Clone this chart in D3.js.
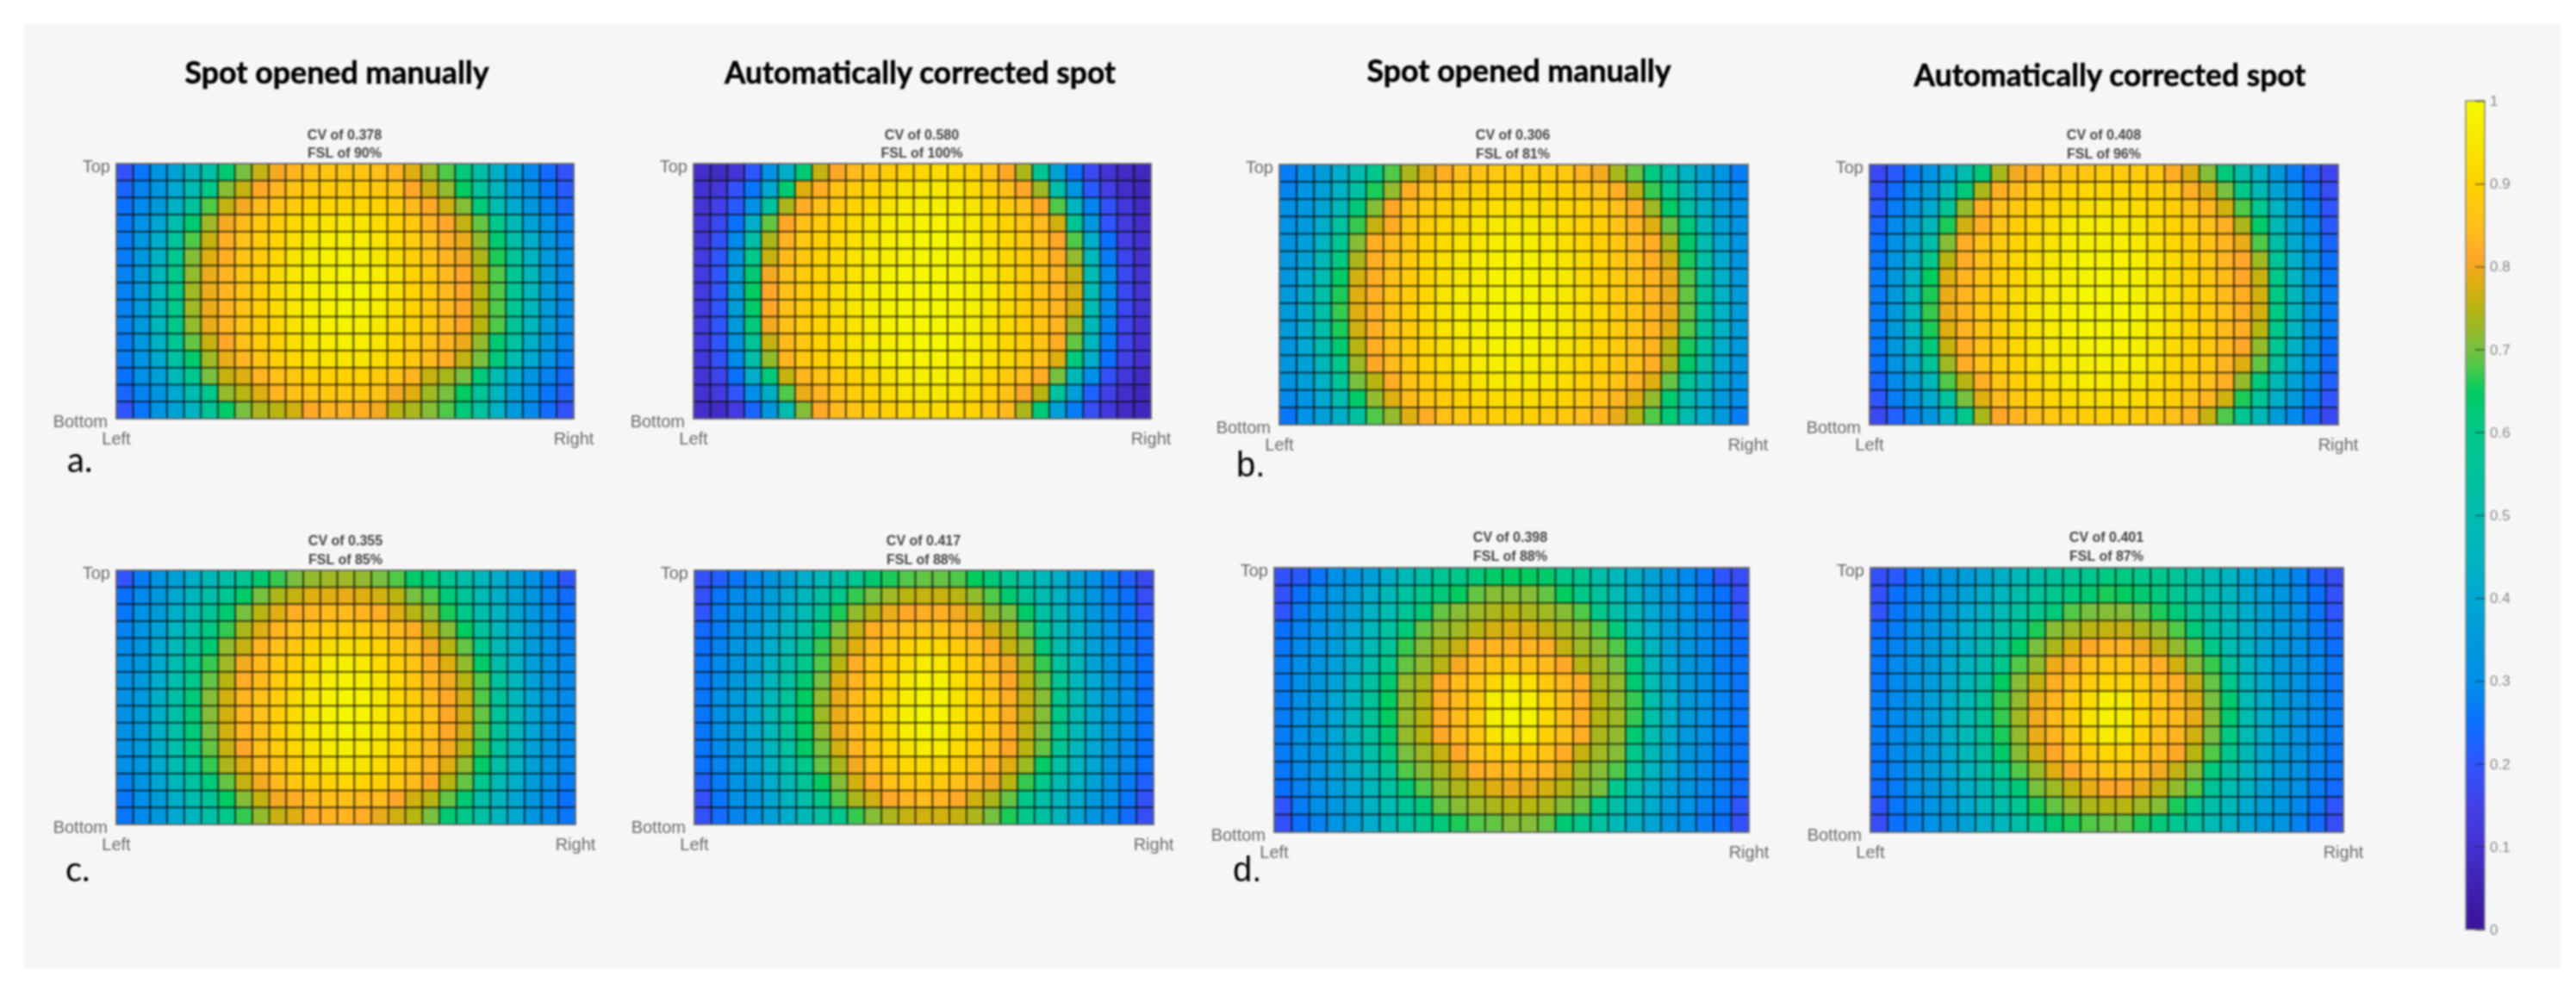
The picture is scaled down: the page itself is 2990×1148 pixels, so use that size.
<!DOCTYPE html>
<html>
<head>
<meta charset="utf-8">
<script src="https://cdnjs.cloudflare.com/ajax/libs/d3/7.8.5/d3.min.js"></script>
<style>
html, body { margin: 0; padding: 0; background: #fff; }
svg { display: block; filter: blur(0.8px); }
</style>
</head>
<body>
<script>
// values, x100, 15 rows (top to bottom) of 27 columns (left to right)
var aManual = [
[19,26,32,38,45,53,63,70,76,80,83,85,86,86,86,85,83,78,73,68,62,52,43,35,29,24,19],
[23,28,33,40,50,60,71,76,81,83,86,87,88,88,88,87,86,81,77,72,65,55,46,37,31,26,21],
[25,29,35,44,55,68,76,80,84,86,88,90,91,91,91,90,88,84,81,77,71,62,50,41,34,28,23],
[26,31,39,51,63,73,80,84,87,89,91,93,94,95,94,92,90,87,83,81,76,69,60,48,38,31,27],
[27,33,42,55,68,76,82,85,88,90,93,95,97,97,96,94,91,88,85,82,79,72,63,52,42,33,28],
[27,34,44,58,71,78,82,86,88,91,94,96,98,98,97,95,92,89,86,83,80,74,66,56,45,35,29],
[28,35,46,60,72,79,83,86,89,92,95,97,98,99,98,96,93,90,87,84,81,75,68,58,47,36,29],
[28,35,46,60,73,79,83,86,89,92,95,97,98,99,99,96,93,90,87,84,81,75,68,58,47,36,29],
[28,35,46,60,73,79,83,86,89,92,95,97,98,99,98,96,93,90,87,84,81,75,68,58,46,36,29],
[28,35,46,60,72,79,83,86,89,91,94,96,98,98,97,95,92,90,87,84,81,75,68,57,46,36,29],
[27,34,44,57,69,76,81,85,88,90,93,95,96,97,96,94,91,88,85,83,79,72,63,54,43,34,28],
[27,33,41,53,64,73,79,83,86,89,91,93,94,94,94,92,90,87,84,82,76,70,62,50,40,32,27],
[25,30,37,47,58,70,76,78,83,85,87,89,90,90,90,88,86,83,76,74,70,62,50,41,33,28,24],
[23,28,33,40,50,60,72,75,78,83,85,86,87,87,87,86,80,78,73,70,65,56,46,37,31,26,22],
[20,26,32,38,45,56,64,70,74,75,77,81,83,83,82,80,75,74,71,68,62,54,44,35,29,24,19]
];
var aCorrected = [
[9,8,11,20,31,43,63,76,81,84,86,88,90,91,92,91,90,86,81,74,58,38,25,17,11,8,7],
[10,12,19,26,40,63,78,82,86,88,90,92,94,95,95,94,92,89,85,81,73,52,33,21,14,9,7],
[11,15,21,31,54,74,82,85,88,90,92,94,96,97,97,96,94,91,88,85,81,68,45,28,19,12,8],
[12,17,25,43,69,81,85,88,90,92,94,96,97,98,98,97,95,92,90,87,84,77,57,34,20,13,9],
[12,19,29,52,74,83,87,89,91,93,95,97,98,99,99,98,96,93,91,88,85,81,68,42,25,14,10],
[13,20,33,60,76,84,87,90,92,94,96,97,98,99,99,98,96,94,91,89,86,82,72,47,27,16,10],
[13,20,36,63,80,85,88,90,92,94,96,98,99,99,99,98,97,94,92,89,86,83,76,50,29,17,11],
[13,20,36,65,81,85,88,90,93,95,97,98,99,99,99,98,97,95,92,89,86,83,77,50,29,17,11],
[13,20,36,64,81,85,88,90,93,95,97,98,99,99,99,98,97,95,92,89,86,83,77,50,29,17,11],
[13,20,35,62,80,85,88,90,92,94,96,98,99,99,99,98,97,94,92,89,86,83,73,48,28,16,10],
[13,20,32,57,76,84,87,90,92,94,96,97,98,99,99,98,96,94,91,89,86,82,69,46,27,16,10],
[12,19,29,52,72,83,87,89,91,93,95,97,98,98,98,97,96,93,91,88,85,78,62,42,25,15,10],
[11,16,25,43,62,76,83,86,88,90,92,94,96,97,97,96,94,91,88,85,82,70,48,30,19,12,8],
[10,13,20,30,43,68,79,83,86,88,90,92,94,95,95,94,92,89,86,81,75,55,37,22,15,9,7],
[9,8,13,23,34,50,71,81,84,86,88,89,91,92,92,91,90,87,84,74,62,37,27,18,12,8,7]
];
var bManual = [
[27,31,36,42,50,60,68,74,78,82,85,86,87,88,88,88,87,83,80,74,69,61,52,44,38,33,27],
[28,32,37,44,53,66,72,82,85,87,88,89,90,90,91,90,89,87,85,82,75,67,60,48,40,34,29],
[30,34,39,47,62,71,81,85,88,89,91,92,93,93,93,92,91,90,88,85,82,73,64,53,43,36,31],
[31,35,42,54,67,76,82,86,89,91,92,94,95,95,95,94,92,90,89,86,83,78,69,62,46,38,32],
[33,37,45,58,71,82,84,87,90,92,94,95,96,97,96,95,93,91,89,87,84,82,74,64,50,40,33],
[34,38,48,61,74,82,85,88,91,93,95,96,97,98,97,96,94,92,90,87,85,82,77,66,53,41,34],
[34,40,50,64,77,82,85,88,91,93,95,96,98,98,98,96,95,92,90,88,85,83,79,68,55,43,35],
[35,41,52,66,78,82,86,88,91,94,96,97,98,99,98,97,95,93,90,88,86,83,79,69,57,44,36],
[35,41,52,67,78,82,86,89,92,94,96,97,98,99,99,97,95,93,91,88,86,83,79,69,56,44,36],
[35,41,52,66,77,82,86,88,91,94,96,97,98,99,98,97,95,92,90,88,86,83,78,68,56,44,36],
[34,40,50,63,75,82,85,88,91,93,95,96,98,98,98,96,94,92,90,88,85,83,75,66,54,42,35],
[34,38,47,60,73,81,84,87,90,92,94,96,97,97,96,95,93,91,89,87,85,82,74,64,52,41,34],
[32,37,44,56,70,75,82,86,88,90,92,94,95,95,95,94,92,90,88,86,83,78,69,57,46,39,32],
[29,33,40,50,64,72,78,84,87,88,90,91,92,92,92,91,90,88,85,83,78,72,63,50,42,35,30],
[26,31,37,43,54,68,72,78,82,85,87,88,89,89,89,88,87,85,83,79,75,68,62,50,42,35,27]
];
var bCorrected = [
[17,21,27,32,40,50,62,74,80,82,85,86,87,88,88,88,87,82,78,71,62,52,44,34,27,22,16],
[19,24,30,36,48,62,74,82,84,87,88,90,91,91,91,90,89,87,82,78,70,60,48,38,31,24,18],
[21,27,33,41,57,72,82,85,87,89,91,92,93,94,93,92,91,89,86,83,77,68,58,44,35,27,20],
[23,29,37,47,66,77,82,86,89,91,93,95,96,96,95,94,92,90,88,85,82,74,64,48,38,29,21],
[25,31,40,52,71,82,85,88,90,92,94,96,97,97,97,95,93,91,89,86,83,79,68,52,41,31,23],
[26,33,42,60,75,82,85,88,91,93,95,97,98,98,98,96,94,92,89,87,83,81,73,57,43,33,25],
[27,34,44,65,78,83,86,89,91,94,96,97,98,99,98,97,95,92,90,87,84,81,76,60,45,34,26],
[27,35,46,66,79,83,86,89,92,94,96,98,99,99,99,97,95,93,90,88,84,82,77,61,46,35,27],
[27,35,47,67,79,83,87,89,92,95,97,98,99,99,99,98,96,93,90,88,85,82,77,61,46,35,27],
[27,35,46,66,78,83,86,89,92,94,96,98,99,99,99,97,95,93,90,88,84,82,75,60,45,34,27],
[26,34,44,62,76,82,85,88,91,94,96,97,98,99,98,97,95,92,90,87,84,81,72,58,44,33,25],
[25,32,41,56,73,82,85,88,90,93,95,96,97,98,97,96,94,91,89,87,83,78,69,55,42,32,24],
[23,29,37,47,68,75,82,86,89,91,93,95,96,96,95,94,92,90,88,85,82,72,62,48,38,29,22],
[20,27,33,41,55,70,78,84,87,89,91,92,93,93,93,92,91,89,86,83,77,66,56,43,35,27,20],
[17,22,28,34,44,60,74,81,83,85,87,88,89,89,89,88,87,85,83,76,68,58,48,36,29,23,17]
];
var cManual = [
[20,27,32,37,42,48,52,58,63,67,70,72,73,73,72,70,68,64,62,58,52,47,42,37,31,27,20],
[25,29,34,40,46,52,58,64,70,74,76,78,78,79,78,77,75,70,68,62,56,49,43,38,33,28,24],
[26,31,36,43,50,57,63,70,75,78,82,83,84,84,83,82,78,75,72,66,60,51,45,39,34,29,26],
[28,32,38,45,53,61,67,74,78,83,85,87,88,88,88,86,84,82,76,71,65,55,47,41,35,30,27],
[29,33,40,47,57,63,72,76,83,85,87,90,92,93,92,90,87,85,80,75,69,60,49,42,36,31,28],
[30,34,41,49,59,67,73,80,84,87,89,92,96,97,95,92,89,86,82,78,72,64,52,44,37,32,29],
[31,35,42,51,60,69,75,82,84,88,91,94,97,98,97,94,91,87,83,80,75,68,55,46,38,33,29],
[31,35,43,52,62,71,77,83,85,88,92,95,98,99,98,95,91,88,84,81,77,68,56,46,39,33,29],
[31,35,43,52,62,71,77,83,85,89,92,95,98,99,98,95,92,88,85,81,77,69,56,47,39,33,29],
[31,35,43,52,62,70,77,83,85,89,92,95,97,98,97,95,92,88,85,81,77,68,56,46,39,33,29],
[31,35,43,51,61,69,76,81,85,88,91,94,96,97,96,94,91,87,84,80,75,67,55,46,38,33,29],
[30,34,41,49,58,67,74,78,84,86,89,92,94,95,94,92,89,86,83,78,72,64,53,44,37,32,29],
[28,32,39,46,54,62,69,76,80,84,87,89,90,91,90,89,87,84,81,75,69,59,49,42,36,30,27],
[26,30,36,43,50,56,65,71,76,80,82,84,85,85,84,84,81,77,75,69,63,52,45,39,34,29,25],
[26,29,34,40,46,53,60,67,72,76,78,82,83,83,82,79,77,75,70,63,60,53,46,40,34,29,26]
];
var cCorrected = [
[19,22,26,29,33,37,42,47,52,58,63,66,68,69,69,68,65,62,58,52,47,42,37,31,27,22,17],
[19,26,29,32,36,41,46,53,60,67,70,73,75,76,76,75,72,68,63,56,50,44,39,33,28,25,18],
[20,27,30,33,38,43,49,57,66,72,75,79,81,82,82,80,77,72,70,64,53,47,40,34,29,26,20],
[24,27,31,35,40,46,52,62,70,76,82,84,85,86,86,84,82,77,74,68,58,49,42,36,31,27,24],
[25,28,32,37,42,49,57,67,73,78,84,87,90,92,91,88,85,82,76,72,62,51,44,37,32,28,24],
[26,29,33,38,44,51,60,68,75,82,86,89,93,96,95,91,87,84,80,74,67,55,46,38,33,29,25],
[26,29,34,39,46,53,63,70,78,83,87,91,95,98,97,93,89,85,81,75,69,58,47,40,34,29,25],
[26,30,35,40,47,55,65,72,79,84,88,92,96,98,98,94,90,86,82,76,71,59,49,40,34,30,25],
[26,30,35,40,48,56,65,73,79,84,88,93,97,99,98,94,90,87,82,76,71,60,49,41,35,30,26],
[26,30,35,40,47,55,65,72,79,84,88,92,96,98,97,94,90,86,82,76,70,59,48,41,35,30,26],
[26,29,34,39,46,54,64,70,77,83,87,91,94,96,96,92,89,85,81,75,69,58,47,40,34,29,25],
[25,28,33,38,44,51,60,69,74,80,85,88,91,92,92,89,86,83,78,73,64,54,45,39,33,29,25],
[22,27,31,36,42,48,56,65,71,77,82,85,87,88,87,85,83,80,75,67,60,50,44,38,32,27,22],
[19,26,30,33,39,45,51,60,68,74,77,81,83,84,83,81,77,74,69,60,52,46,41,35,30,26,19],
[19,24,28,31,37,42,48,54,60,67,71,74,76,77,77,76,74,70,66,60,53,46,39,33,29,24,18]
];
var dManual = [
[19,21,26,30,33,37,42,48,52,58,60,62,64,65,65,64,60,58,52,47,42,38,33,29,26,20,18],
[19,25,29,33,37,42,48,54,59,62,65,69,71,71,71,69,65,60,55,49,43,38,34,31,27,25,19],
[20,27,30,34,38,44,50,56,62,69,71,73,74,75,74,73,71,68,60,52,46,40,35,31,28,26,20],
[25,28,31,35,40,47,54,62,69,72,73,75,77,78,78,76,74,72,68,62,50,42,36,32,29,27,24],
[26,29,32,36,42,49,56,67,71,74,76,82,83,83,83,82,76,73,71,68,58,45,38,33,29,27,25],
[27,30,33,37,43,51,60,69,72,75,80,84,86,87,86,84,81,75,73,70,62,47,39,34,30,27,26],
[27,30,34,38,45,54,63,72,74,81,84,86,91,95,93,87,84,82,74,72,63,50,41,35,30,28,26],
[27,30,34,39,46,56,65,72,75,82,84,87,96,98,97,91,85,82,75,72,67,52,42,35,31,28,26],
[27,30,34,39,46,56,65,72,75,82,84,88,97,99,98,92,85,82,75,73,67,52,42,35,31,28,26],
[27,30,34,39,46,54,63,72,75,81,84,87,94,97,96,89,85,82,74,72,63,50,41,35,31,28,26],
[27,30,33,38,44,52,61,70,73,76,81,85,88,90,89,86,82,76,73,71,60,47,40,34,30,27,26],
[26,29,32,37,43,49,57,68,71,74,77,82,83,84,84,83,78,73,71,68,55,45,39,33,29,27,25],
[25,28,31,36,41,47,54,62,68,72,74,76,78,79,79,77,75,72,70,60,50,43,37,32,29,27,24],
[20,27,30,34,39,44,50,56,62,69,71,73,74,75,75,74,71,69,60,52,46,41,35,31,28,26,20],
[19,25,28,32,37,42,48,53,59,62,66,68,69,71,71,69,63,60,54,48,43,39,33,30,27,25,19]
];
var dCorrected = [
[19,21,27,30,33,36,39,43,47,51,54,57,59,61,61,60,59,56,53,49,45,40,36,32,28,22,18],
[19,25,28,31,34,38,42,46,51,55,58,61,63,66,65,63,61,58,54,50,46,41,37,33,29,25,19],
[20,26,29,32,36,40,44,49,54,58,62,68,70,71,71,69,66,62,57,52,47,42,38,34,30,26,20],
[24,27,30,34,37,42,46,52,57,66,71,73,75,76,76,74,72,68,62,53,48,43,38,35,31,27,23],
[26,28,31,35,39,43,49,55,65,70,74,78,81,83,83,80,76,72,68,60,50,44,39,35,31,28,25],
[26,29,32,35,40,45,50,60,68,72,79,82,85,87,87,84,82,77,71,67,55,46,40,35,32,29,26],
[26,29,32,36,41,46,53,65,71,76,82,85,88,91,91,88,84,82,76,69,60,47,41,36,32,29,26],
[27,29,33,37,42,48,56,67,72,79,83,88,92,97,96,90,86,83,78,70,63,49,42,36,32,29,27],
[27,29,33,37,42,49,57,67,73,80,84,88,94,98,97,91,86,84,79,71,63,50,43,37,32,29,27],
[27,29,33,37,42,48,56,66,72,79,83,87,92,96,95,90,85,83,77,70,61,49,42,37,32,29,27],
[26,29,33,36,41,47,54,64,71,77,81,85,88,91,91,87,84,81,75,68,59,48,41,36,32,29,26],
[26,28,32,36,40,45,52,60,68,73,78,81,84,86,86,84,80,76,71,62,53,46,40,35,32,28,26],
[24,27,31,34,38,43,48,55,62,70,73,76,79,81,81,79,76,72,68,57,50,44,38,34,31,27,24],
[20,26,29,32,36,41,46,52,58,66,69,72,74,75,75,73,71,66,58,52,47,41,37,33,29,26,20],
[18,25,28,31,34,38,42,47,52,58,63,66,68,69,69,66,62,58,54,49,44,39,35,32,28,24,18]
];
var titles = ["Spot opened manually", "Automatically corrected spot"];
var cvLabels = ["0.378", "0.580", "0.306", "0.408", "0.355", "0.417", "0.398", "0.401"];
var fslLabels = ["90%", "100%", "81%", "96%", "85%", "88%", "88%", "87%"];
var colorbarTicks = [0, 0.1, 0.2, 0.3, 0.4, 0.5, 0.6, 0.7, 0.8, 0.9, 1];

// colormap
var cmapStops = [0, .05, .1, .15, .2, .25, .3, .35, .4, .45, .5, .55, .6, .65, .68, .7, .75, .78, .81, .85, .9, .95, 1];
var cmapColors = ["#3a149c", "#4020b0", "#4431d2", "#4240e8", "#2f55ff", "#0a70ff", "#0090e8", "#0099dc", "#00a8d2", "#00b4c0",
  "#00bcb0", "#00c29c", "#00c88a", "#00cc60", "#50c848", "#78c040", "#b8b410", "#dfae10", "#ffa828", "#ffc018", "#ffd200", "#f8e800", "#f6fa00"];

var color = d3.scaleLinear().domain(cmapStops).range(cmapColors);

// where each heatmap sits
var panels = [
  {data: aManual, x0: 135, x1: 666, y0: 190, y1: 486, cvX: 400, cvY: 162, fslY: 183},
  {data: aCorrected, x0: 805, x1: 1336, y0: 190, y1: 486, cvX: 1070, cvY: 162, fslY: 183},
  {data: bManual, x0: 1485, x1: 2029, y0: 191, y1: 493, cvX: 1756, cvY: 162, fslY: 184},
  {data: bCorrected, x0: 2170, x1: 2714, y0: 191, y1: 493, cvX: 2442, cvY: 162, fslY: 184},
  {data: cManual, x0: 135, x1: 668, y0: 662, y1: 957, cvX: 401, cvY: 633, fslY: 655},
  {data: cCorrected, x0: 806, x1: 1339, y0: 662, y1: 957, cvX: 1072, cvY: 633, fslY: 655},
  {data: dManual, x0: 1479, x1: 2030, y0: 659, y1: 966, cvX: 1753, cvY: 629, fslY: 651},
  {data: dCorrected, x0: 2171, x1: 2720, y0: 659, y1: 966, cvX: 2445, cvY: 629, fslY: 651}
];
var headings = [
  {text: titles[0], x: 391, y: 97, w: 353},
  {text: titles[1], x: 1068, y: 97, w: 454},
  {text: titles[0], x: 1763, y: 95, w: 353},
  {text: titles[1], x: 2449, y: 100, w: 455}
];
var letters = [
  {text: "a.", x: 78, y: 548, font: "Lato"},
  {text: "b.", x: 1435, y: 553, font: "Liberation Sans"},
  {text: "c.", x: 76, y: 1023, font: "Lato"},
  {text: "d.", x: 1431, y: 1023, font: "Liberation Sans"}
];

var svg = d3.select("body").append("svg")
  .attr("width", 2990)
  .attr("height", 1148);

svg.append("rect")
  .attr("width", 2990)
  .attr("height", 1148)
  .attr("fill", "#fff");

svg.append("rect")
  .attr("x", 28)
  .attr("y", 27)
  .attr("width", 2944)
  .attr("height", 1096)
  .attr("fill", "#f6f6f6");

panels.forEach(function(p, i) {
  var x = d3.scaleBand().domain(d3.range(p.data[0].length)).range([p.x0, p.x1]);
  var y = d3.scaleBand().domain(d3.range(p.data.length)).range([p.y0, p.y1]);
  var g = svg.append("g");

  p.data.forEach(function(row, r) {
    g.selectAll(null)
      .data(row)
      .enter()
      .append("rect")
      .attr("x", function(d, c) { return x(c); })
      .attr("y", y(r))
      .attr("width", x.bandwidth())
      .attr("height", y.bandwidth())
      .attr("fill", function(d) { return color(d / 100); })
      .attr("stroke", "#0a0a0a")
      .attr("stroke-opacity", 0.65)
      .attr("stroke-width", 1.7);
  });

  g.append("rect")
    .attr("x", p.x0)
    .attr("y", p.y0)
    .attr("width", p.x1 - p.x0)
    .attr("height", p.y1 - p.y0)
    .attr("fill", "none")
    .attr("stroke", "#777")
    .attr("stroke-width", 1.5);

  var small = svg.append("g")
    .attr("font-family", "Liberation Sans")
    .attr("font-size", 20)
    .attr("fill", "#6a6a6a");
  small.append("text").attr("x", p.x0 - 7).attr("y", p.y0 + 10).attr("text-anchor", "end").text("Top");
  small.append("text").attr("x", p.x0 - 10).attr("y", p.y1 + 10).attr("text-anchor", "end").text("Bottom");
  small.append("text").attr("x", p.x0).attr("y", p.y1 + 30).attr("text-anchor", "middle").text("Left");
  small.append("text").attr("x", p.x1).attr("y", p.y1 + 30).attr("text-anchor", "middle").text("Right");

  var head = svg.append("g")
    .attr("font-family", "Liberation Sans")
    .attr("font-weight", "bold")
    .attr("font-size", 16)
    .attr("fill", "#444")
    .attr("text-anchor", "middle");
  head.append("text").attr("x", p.cvX).attr("y", p.cvY).text("CV of " + cvLabels[i]);
  head.append("text").attr("x", p.cvX).attr("y", p.fslY).text("FSL of " + fslLabels[i]);
});

svg.selectAll(".heading")
  .data(headings)
  .enter()
  .append("text")
  .attr("class", "heading")
  .attr("x", function(d) { return d.x; })
  .attr("y", function(d) { return d.y; })
  .attr("text-anchor", "middle")
  .attr("font-family", "Lato")
  .attr("font-weight", "bold")
  .attr("font-size", 37)
  .attr("textLength", function(d) { return d.w; })
  .attr("lengthAdjust", "spacingAndGlyphs")
  .attr("fill", "#000")
  .attr("stroke", "#000")
  .attr("stroke-width", 0.5)
  .text(function(d) { return d.text; });

svg.selectAll(".letter")
  .data(letters)
  .enter()
  .append("text")
  .attr("class", "letter")
  .attr("x", function(d) { return d.x; })
  .attr("y", function(d) { return d.y; })
  .attr("font-family", function(d) { return d.font; })
  .attr("font-size", 40)
  .attr("fill", "#000")
  .text(function(d) { return d.text; });

// colorbar
var barScale = d3.scaleLinear().domain([0, 1]).range([1079, 117]);

var grad = svg.append("defs").append("linearGradient")
  .attr("id", "cmap")
  .attr("x1", 0).attr("x2", 0)
  .attr("y1", 1).attr("y2", 0);
grad.selectAll("stop")
  .data(cmapStops)
  .enter()
  .append("stop")
  .attr("offset", function(d) { return d; })
  .attr("stop-color", function(d) { return color(d); });

svg.append("rect")
  .attr("x", 2862)
  .attr("y", barScale(1))
  .attr("width", 22)
  .attr("height", barScale(0) - barScale(1))
  .attr("fill", "url(#cmap)")
  .attr("stroke", "#8a8a8a")
  .attr("stroke-width", 1.5);

var barAxis = d3.axisRight(barScale)
  .tickValues(colorbarTicks)
  .tickFormat(function(d) { return d3.format("~g")(d); })
  .tickSizeInner(-11)
  .tickSizeOuter(0)
  .tickPadding(6);

var axisG = svg.append("g")
  .attr("transform", "translate(2884,0)")
  .call(barAxis);
axisG.select(".domain").remove();
axisG.selectAll(".tick line").attr("stroke", "#222").attr("stroke-opacity", 0.6).attr("stroke-width", 1.5);
axisG.selectAll(".tick text")
  .attr("font-family", "Liberation Sans")
  .attr("font-size", 17)
  .attr("fill", "#888");
</script>
</body>
</html>
